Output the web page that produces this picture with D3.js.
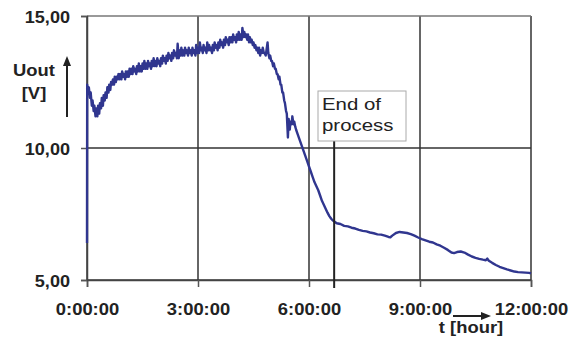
<!DOCTYPE html>
<html>
<head>
<meta charset="utf-8">
<script src="https://cdn.jsdelivr.net/npm/d3@7"></script>
<style>
  body { margin: 0; background: #fff; }
  svg { display: block; }
  text { font-family: "Liberation Sans", Arial, sans-serif; fill: #222; }
</style>
</head>
<body>
<div class="chart"></div>
<script>
// time ticks in hours, y ticks in volts
var hourTicks = [0, 3, 6, 9, 12];
var voltTicks = [5, 10, 15];
var endOfProcess = 6.68;

// [hour, Uout]
var uout = [
  [0.00, 6.4], [0.005, 12.4], [0.02, 12.2], [0.05, 12.3], [0.08, 11.9], [0.10, 12.1], [0.13, 11.6],
  [0.15, 11.8], [0.18, 11.4], [0.20, 11.6], [0.23, 11.2], [0.25, 11.5], [0.28, 11.2], [0.30, 11.6],
  [0.33, 11.3], [0.35, 11.7], [0.38, 11.5], [0.40, 11.9], [0.43, 11.6], [0.45, 12.0], [0.48, 11.8],
  [0.50, 12.1], [0.53, 11.9], [0.55, 12.3], [0.58, 12.1], [0.60, 12.4], [0.63, 12.2], [0.65, 12.5],
  [0.68, 12.4], [0.70, 12.6], [0.73, 12.4], [0.75, 12.7], [0.78, 12.5], [0.80, 12.7], [0.83, 12.6],
  [0.85, 12.8], [0.88, 12.6], [0.90, 12.8], [0.93, 12.6], [0.95, 12.9], [0.98, 12.7], [1.00, 12.8],
  [1.03, 12.6], [1.05, 12.9], [1.08, 12.7], [1.10, 12.9], [1.13, 12.7], [1.15, 13.0], [1.18, 12.8],
  [1.20, 13.0], [1.23, 12.8], [1.25, 13.1], [1.28, 12.9], [1.30, 13.0], [1.33, 12.8], [1.35, 13.1],
  [1.38, 12.9], [1.40, 13.2], [1.43, 12.9], [1.45, 13.1], [1.48, 12.9], [1.50, 13.2], [1.53, 13.0],
  [1.55, 13.3], [1.58, 13.0], [1.60, 13.2], [1.63, 13.0], [1.65, 13.3], [1.68, 13.1], [1.70, 13.2],
  [1.73, 13.0], [1.75, 13.3], [1.78, 13.1], [1.80, 13.4], [1.83, 13.1], [1.85, 13.3], [1.88, 13.1],
  [1.90, 13.4], [1.93, 13.2], [1.95, 13.3], [1.98, 13.1], [2.00, 13.4], [2.03, 13.2], [2.05, 13.5],
  [2.08, 13.3], [2.10, 13.4], [2.13, 13.2], [2.15, 13.5], [2.18, 13.3], [2.20, 13.6], [2.23, 13.4],
  [2.25, 13.5], [2.28, 13.3], [2.30, 13.6], [2.33, 13.4], [2.35, 13.7], [2.38, 13.5], [2.40, 13.6],
  [2.43, 13.4], [2.45, 13.95], [2.48, 13.4], [2.50, 13.7], [2.53, 13.5], [2.55, 13.8], [2.58, 13.5],
  [2.60, 13.7], [2.63, 13.5], [2.65, 13.8], [2.68, 13.6], [2.70, 13.7], [2.73, 13.5], [2.75, 13.8],
  [2.78, 13.6], [2.80, 13.7], [2.83, 13.5], [2.85, 13.8], [2.88, 13.6], [2.90, 13.7], [2.93, 13.5],
  [2.95, 13.9], [2.98, 13.6], [3.00, 13.8], [3.03, 13.6], [3.05, 14.0], [3.08, 13.7], [3.10, 13.8],
  [3.13, 13.6], [3.15, 13.9], [3.18, 13.7], [3.20, 13.8], [3.23, 13.6], [3.25, 14.0], [3.28, 13.7],
  [3.30, 13.9], [3.33, 13.7], [3.35, 13.8], [3.38, 13.6], [3.40, 13.9], [3.43, 13.7], [3.45, 14.0],
  [3.48, 13.8], [3.50, 13.9], [3.53, 13.7], [3.55, 14.0], [3.58, 13.8], [3.60, 14.1], [3.63, 13.9],
  [3.65, 14.0], [3.68, 13.8], [3.70, 14.1], [3.73, 13.9], [3.75, 14.2], [3.78, 14.0], [3.80, 14.1],
  [3.83, 13.9], [3.85, 14.2], [3.88, 14.0], [3.90, 14.2], [3.93, 14.0], [3.95, 14.3], [3.98, 14.1],
  [4.00, 14.2], [4.03, 14.0], [4.05, 14.3], [4.08, 14.1], [4.10, 14.4], [4.13, 14.1], [4.15, 14.3],
  [4.18, 14.1], [4.20, 14.55], [4.23, 14.2], [4.25, 14.4], [4.28, 14.2], [4.30, 14.3], [4.33, 14.1],
  [4.35, 14.3], [4.38, 14.0], [4.40, 14.2], [4.43, 14.0], [4.45, 14.1], [4.48, 13.9], [4.50, 14.0],
  [4.53, 13.8], [4.55, 13.9], [4.58, 13.7], [4.60, 13.8], [4.63, 13.6], [4.65, 13.8], [4.68, 13.5],
  [4.70, 13.7], [4.73, 13.6], [4.75, 13.8], [4.78, 13.6], [4.80, 13.6], [4.83, 13.5], [4.85, 13.7],
  [4.88, 14.0], [4.90, 13.6], [4.93, 13.4], [4.95, 13.5], [4.98, 13.3], [5.00, 13.3], [5.03, 13.1],
  [5.05, 13.2], [5.08, 13.0], [5.10, 13.0], [5.13, 12.8], [5.15, 12.8], [5.18, 12.6], [5.20, 12.7],
  [5.23, 12.4], [5.25, 12.4], [5.28, 12.1], [5.30, 12.1], [5.33, 11.8], [5.35, 11.7], [5.38, 11.4],
  [5.40, 11.3], [5.43, 10.4], [5.45, 11.1], [5.48, 10.7], [5.50, 11.0], [5.53, 10.9], [5.55, 11.2],
  [5.58, 10.9], [5.60, 11.0], [5.63, 10.8], [5.65, 10.7], [5.70, 10.5], [5.75, 10.3], [5.80, 10.1],
  [5.85, 9.9], [5.90, 9.7], [5.95, 9.5], [6.00, 9.3], [6.05, 9.1], [6.10, 8.9], [6.15, 8.7],
  [6.20, 8.55], [6.25, 8.4], [6.30, 8.2], [6.35, 8.0], [6.40, 7.85], [6.45, 7.7], [6.50, 7.55],
  [6.55, 7.42], [6.60, 7.32], [6.65, 7.25], [6.70, 7.2], [6.75, 7.15], [6.85, 7.12], [6.95, 7.05],
  [7.05, 7.03], [7.15, 6.98], [7.25, 6.95], [7.35, 6.9], [7.45, 6.86], [7.55, 6.84], [7.65, 6.80],
  [7.75, 6.77], [7.85, 6.73], [7.95, 6.72], [8.05, 6.68], [8.15, 6.63], [8.20, 6.62], [8.25, 6.68],
  [8.35, 6.78], [8.45, 6.82], [8.55, 6.80], [8.65, 6.78], [8.75, 6.74], [8.85, 6.68], [8.95, 6.61],
  [9.05, 6.55], [9.15, 6.50], [9.25, 6.45], [9.35, 6.42], [9.45, 6.35], [9.55, 6.30], [9.65, 6.22],
  [9.75, 6.14], [9.85, 6.04], [9.92, 6.02], [10.00, 6.06], [10.10, 6.08], [10.20, 6.04], [10.30, 5.96],
  [10.40, 5.89], [10.50, 5.84], [10.60, 5.80], [10.70, 5.77], [10.78, 5.75], [10.82, 5.81], [10.86, 5.73],
  [10.95, 5.65], [11.05, 5.57], [11.15, 5.50], [11.25, 5.45], [11.35, 5.40], [11.45, 5.36], [11.55, 5.32],
  [11.65, 5.30], [11.75, 5.29], [11.85, 5.28], [11.95, 5.27], [12.00, 5.25]
];

var margin = {top: 16, right: 43, bottom: 62, left: 87},
    width = 574 - margin.left - margin.right,
    height = 342 - margin.top - margin.bottom;

var x = d3.scaleLinear().domain([0, 12]).range([0, width]);
var y = d3.scaleLinear().domain([5, 15]).range([height, 0]);

var comma = d3.formatLocale({decimal: ",", thousands: ".", grouping: [3], currency: ["", ""]}).format(".2f");

var svg = d3.select(".chart").append("svg")
    .attr("width", 574)
    .attr("height", 342)
  .append("g")
    .attr("transform", "translate(" + margin.left + "," + margin.top + ")");

// grid lines
svg.append("g")
    .selectAll("line.vgrid")
    .data(hourTicks)
  .enter().append("line")
    .attr("x1", function(d) { return x(d); })
    .attr("x2", function(d) { return x(d); })
    .attr("y1", 0)
    .attr("y2", height)
    .attr("stroke", "#333")
    .attr("stroke-width", 1.5);

svg.append("g")
    .selectAll("line.hgrid")
    .data(voltTicks)
  .enter().append("line")
    .attr("x1", 0)
    .attr("x2", width)
    .attr("y1", function(d) { return y(d); })
    .attr("y2", function(d) { return y(d); })
    .attr("stroke", function(d) { return d == 15 ? "#777" : "#333"; })
    .attr("stroke-width", 1.5);

// axes
var xAxis = svg.append("g")
    .attr("transform", "translate(0," + height + ")")
    .call(d3.axisBottom(x).tickValues(hourTicks).tickSize(7).tickPadding(0)
      .tickFormat(function(d) { return d + ":00:00"; }));
xAxis.select(".domain").attr("stroke", "#444").attr("stroke-width", 1.5);
xAxis.selectAll(".tick line").attr("stroke", "#555").attr("stroke-width", 1.5);
xAxis.selectAll(".tick text")
    .attr("y", 0).attr("dy", null)
    .attr("transform", "translate(0,35) scale(1.15,1)")
    .style("font-size", "16px").style("font-weight", "bold").style("fill", "#222");

var yAxis = svg.append("g")
    .call(d3.axisLeft(y).tickValues(voltTicks).tickSize(6).tickPadding(0).tickFormat(comma));
yAxis.select(".domain").attr("stroke", "#444").attr("stroke-width", 1.5);
yAxis.selectAll(".tick line").attr("stroke", "#555").attr("stroke-width", 1.5);
yAxis.selectAll(".tick text")
    .attr("x", 0).attr("dy", null)
    .attr("transform", "translate(-17,6) scale(1.13,1)")
    .style("font-size", "16px").style("font-weight", "bold").style("fill", "#222");

// data line
var line = d3.line()
    .x(function(d) { return x(d[0]); })
    .y(function(d) { return y(d[1]); });

svg.append("path")
    .datum(uout)
    .attr("fill", "none")
    .attr("stroke", "#30368f")
    .attr("stroke-width", 2.4)
    .attr("stroke-linejoin", "round")
    .attr("d", line);

// end of process marker
svg.append("line")
    .attr("x1", x(endOfProcess)).attr("x2", x(endOfProcess))
    .attr("y1", 125).attr("y2", height + 8)
    .attr("stroke", "#222")
    .attr("stroke-width", 2);

svg.append("rect")
    .attr("x", 231).attr("y", 75)
    .attr("width", 88).attr("height", 50)
    .attr("fill", "#fff")
    .attr("stroke", "#aaa");

var note = svg.append("text")
    .attr("transform", "translate(235,94) scale(1.2,1)")
    .style("font-size", "17px");
note.append("tspan").attr("x", 0).attr("y", 0).text("End of");
note.append("tspan").attr("x", 0).attr("y", 21).text("process");

// axis titles
var arrowFill = "#222";
svg.append("text")
    .attr("transform", "translate(-53,60) scale(1.15,1)")
    .attr("text-anchor", "middle")
    .style("font-size", "16px").style("font-weight", "bold")
    .text("Uout");
svg.append("text")
    .attr("transform", "translate(-53,83) scale(1.15,1)")
    .attr("text-anchor", "middle")
    .style("font-size", "16px").style("font-weight", "bold")
    .text("[V]");

svg.append("line")
    .attr("x1", -20).attr("x2", -20)
    .attr("y1", 101).attr("y2", 46)
    .attr("stroke", arrowFill).attr("stroke-width", 2);
svg.append("path")
    .attr("d", "M-20,40 L-24,50 L-16,50 Z")
    .attr("fill", arrowFill);

svg.append("text")
    .attr("transform", "translate(384,317) scale(1.15,1)")
    .attr("text-anchor", "middle")
    .style("font-size", "16px").style("font-weight", "bold")
    .text("t [hour]");

svg.append("line")
    .attr("x1", 366).attr("x2", 396)
    .attr("y1", 300).attr("y2", 300)
    .attr("stroke", arrowFill).attr("stroke-width", 2);
svg.append("path")
    .attr("d", "M404,300 L394,296 L394,304 Z")
    .attr("fill", arrowFill);
</script>
</body>
</html>
